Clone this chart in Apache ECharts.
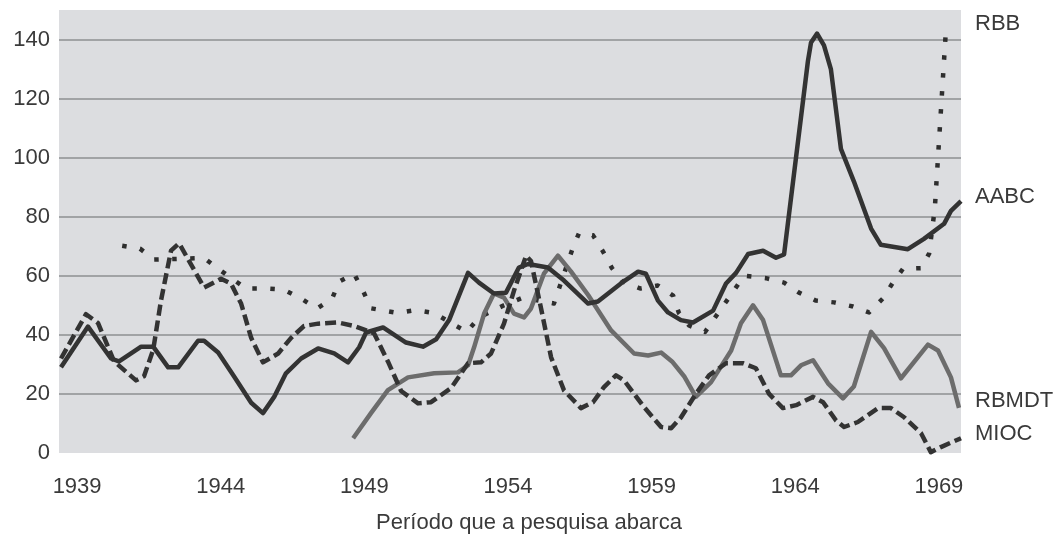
<!DOCTYPE html>
<html>
<head>
<meta charset="utf-8">
<script src="https://cdn.jsdelivr.net/npm/echarts@6/dist/echarts.min.js"></script>
<style>
  html, body { margin: 0; padding: 0; background: #fff; }
  #chart { width: 1058px; height: 535px; }
</style>
</head>
<body>
<div id="chart"></div>
<script>
// pontos: [ano, valor]
var aabc = [
  [1938.44, 29], [1939.38, 42.8], [1940.18, 32], [1940.46, 31], [1941.23, 36], [1941.65, 36],
  [1942.17, 29], [1942.52, 29], [1943.21, 38], [1943.42, 38], [1943.91, 34], [1944.46, 26],
  [1945.06, 17], [1945.47, 13.5], [1945.86, 19], [1946.27, 27], [1946.8, 32], [1947.39, 35.4],
  [1947.95, 33.7], [1948.43, 30.7], [1948.82, 35.8], [1949.06, 40.8], [1949.65, 42.5], [1950.45, 37.4],
  [1951.04, 36], [1951.5, 38.5], [1951.95, 45], [1952.61, 61], [1952.99, 57.7], [1953.51, 54],
  [1953.93, 54.3], [1954.38, 62.8], [1954.7, 64], [1955.39, 62.8], [1955.95, 58.4], [1956.79, 50.6],
  [1957.13, 51.3], [1957.93, 57.4], [1958.53, 61.4], [1958.8, 60.7], [1959.22, 51.6], [1959.57, 47.6],
  [1960.02, 45], [1960.44, 44.2], [1961.14, 48.2], [1961.59, 57.4], [1961.94, 61], [1962.36, 67.4],
  [1962.88, 68.5], [1963.33, 66.1], [1963.61, 67.2], [1964.44, 132.6], [1964.55, 139], [1964.76, 142],
  [1965.0, 138], [1965.24, 130], [1965.59, 103], [1966.04, 92], [1966.64, 76], [1966.98, 70.5],
  [1967.92, 69], [1968.48, 72.5], [1969.18, 77.6], [1969.42, 82], [1969.77, 85.3]
];
var rbb = [
  [1940.57, 70.2], [1941.19, 69.2], [1941.68, 65.5], [1943.42, 66], [1943.91, 62.4], [1944.88, 55.7],
  [1945.58, 55.7], [1946.2, 55.3], [1946.8, 52.3], [1947.35, 48.9], [1947.88, 52.3], [1948.12, 58],
  [1948.64, 60.7], [1948.95, 55], [1949.23, 49], [1950.17, 47.4], [1950.8, 48.4], [1951.43, 47.4],
  [1952.02, 44], [1952.57, 41], [1952.99, 45.9], [1953.86, 50], [1954.52, 52.6], [1955.6, 50.6],
  [1956.23, 68.7], [1956.47, 74.4], [1956.96, 73.7], [1957.31, 68.2], [1957.62, 62.6], [1958.0, 58],
  [1958.6, 55.7], [1959.22, 56.7], [1959.75, 53.3], [1959.95, 47.4], [1960.3, 43.2], [1960.86, 41],
  [1962.22, 60], [1962.98, 59.2], [1963.61, 57.7], [1964.13, 54.3], [1964.72, 51.6], [1965.35, 51],
  [1966.01, 49.6], [1966.57, 47.6], [1967.05, 52.3], [1967.4, 57.7], [1967.75, 62.4], [1968.38, 62.6],
  [1968.66, 67.5], [1968.86, 83], [1969.25, 144]
];
var rbmdt = [
  [1948.61, 5], [1949.23, 13.5], [1949.82, 21.3], [1950.52, 25.6], [1951.43, 27], [1952.26, 27.3],
  [1952.61, 29.7], [1952.82, 35.8], [1953.17, 47.2], [1953.51, 54], [1953.86, 52.6], [1954.21, 47.2],
  [1954.56, 45.9], [1954.8, 48.9], [1955.25, 60.7], [1955.74, 66.8], [1956.19, 61.5], [1956.79, 53.5],
  [1957.59, 41.5], [1958.39, 33.7], [1958.88, 33], [1959.33, 34], [1959.71, 31], [1960.13, 26],
  [1960.54, 19], [1961.07, 24], [1961.77, 34.7], [1962.11, 43.9], [1962.53, 50], [1962.88, 45],
  [1963.5, 26.3], [1963.85, 26.3], [1964.2, 29.7], [1964.62, 31.4], [1965.14, 23.6], [1965.66, 18.5],
  [1966.04, 22.5], [1966.64, 41], [1967.09, 35.5], [1967.68, 25.3], [1968.62, 36.7], [1968.97, 34.7],
  [1969.42, 25.6], [1969.7, 15.3]
];
var mioc = [
  [1938.44, 32], [1939.31, 47], [1939.73, 44], [1940.29, 31], [1941.05, 24.6], [1941.33, 26],
  [1941.65, 35], [1941.92, 51.6], [1942.27, 68.5], [1942.55, 71], [1942.9, 65], [1943.42, 56],
  [1944.01, 59], [1944.36, 57.3], [1944.71, 50.6], [1945.06, 39], [1945.47, 30.7], [1946.0, 33.7],
  [1946.45, 39], [1946.9, 43], [1947.39, 43.8], [1948.08, 44.2], [1948.64, 43], [1949.34, 40.5],
  [1949.82, 31], [1950.28, 21], [1950.87, 16.8], [1951.32, 17.2], [1952.02, 22], [1952.61, 30.4],
  [1953.06, 30.7], [1953.41, 33.7], [1953.86, 43.8], [1954.21, 55], [1954.63, 66.8], [1954.8, 65],
  [1955.15, 49], [1955.5, 32.4], [1955.95, 21.2], [1956.54, 15.2], [1956.96, 17.2], [1957.34, 22.3],
  [1957.76, 26.3], [1958.04, 24.6], [1958.74, 15.5], [1959.33, 8.8], [1959.68, 8.4], [1960.02, 12],
  [1960.54, 20], [1961.0, 26.3], [1961.59, 30.4], [1962.18, 30.4], [1962.63, 28.7], [1963.09, 20],
  [1963.57, 15.2], [1964.03, 16.2], [1964.62, 19], [1964.97, 17.2], [1965.42, 11], [1965.7, 8.8],
  [1966.18, 10.5], [1966.88, 15.2], [1967.33, 15.2], [1967.79, 12.1], [1968.38, 6.7], [1968.72, 0.3],
  [1969.07, 2], [1969.77, 5]
];
var xTicks = [1939, 1944, 1949, 1954, 1959, 1964, 1969];
var seriesNames = ['RBB', 'AABC', 'RBMDT', 'MIOC'];
var xName = 'Período que a pesquisa abarca';

var chart = echarts.init(document.getElementById('chart'));
var font = '"Liberation Sans", Arial, sans-serif';
var textColor = '#3a3a3a';

function line(name, data, color, type) {
    return {
        name: name,
        type: 'line',
        data: data,
        showSymbol: false,
        smooth: false,
        silent: true,
        clip: false,
        lineStyle: { color: color, width: 4.5, type: type, cap: 'butt', join: 'round' }
    };
}

var option = {
    animation: false,
    backgroundColor: '#ffffff',
    grid: {
        left: 59, right: 97, top: 10, bottom: 82,
        outerBoundsMode: 'none',
        show: true, backgroundColor: '#dcdde0', borderWidth: 0
    },
    xAxis: {
        type: 'value',
        min: 1938.37,
        max: 1969.77,
        axisLine: { show: false },
        axisTick: { show: false },
        splitLine: { show: false },
        axisLabel: {
            customValues: xTicks,
            formatter: function (v) { return String(v); },
            margin: 23,
            fontSize: 22,
            color: textColor,
            fontFamily: font
        },
        name: xName,
        nameLocation: 'middle',
        nameGap: 59,
        nameMoveOverlap: false,
        nameTextStyle: { fontSize: 22, color: textColor, fontFamily: font, padding: [0, 0, 0, 38] }
    },
    yAxis: {
        type: 'value',
        min: 0,
        max: 150,
        interval: 20,
        axisLine: { show: false },
        axisTick: { show: false },
        axisLabel: {
            showMaxLabel: false,
            verticalAlignMinLabel: 'middle',
            margin: 9,
            fontSize: 22,
            color: textColor,
            fontFamily: font
        },
        splitLine: {
            showMinLine: false,
            showMaxLine: false,
            lineStyle: { color: '#8e8f92', width: 1.5 }
        }
    },
    graphic: [
        { type: 'text', left: 975, top: 13, style: { text: seriesNames[0], fontSize: 22, fill: textColor, fontFamily: font } },
        { type: 'text', left: 975, top: 186, style: { text: seriesNames[1], fontSize: 22, fill: textColor, fontFamily: font } },
        { type: 'text', left: 975, top: 390, style: { text: seriesNames[2], fontSize: 22, fill: textColor, fontFamily: font } },
        { type: 'text', left: 975, top: 423, style: { text: seriesNames[3], fontSize: 22, fill: textColor, fontFamily: font } }
    ],
    series: [
        line(seriesNames[0], rbb, '#2e2e2e', [4.5, 13.5]),
        line(seriesNames[2], rbmdt, '#6c6c6c', 'solid'),
        line(seriesNames[1], aabc, '#333333', 'solid'),
        line(seriesNames[3], mioc, '#333333', [11, 5])
    ]
};
chart.setOption(option);
</script>
</body>
</html>
